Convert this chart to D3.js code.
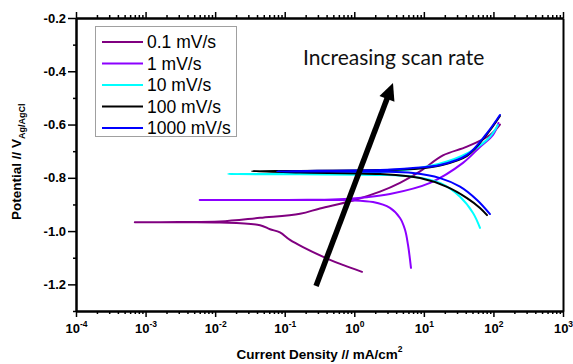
<!DOCTYPE html>
<html><head><meta charset="utf-8">
<script src="https://cdn.jsdelivr.net/npm/d3@7"></script>
<style>body{margin:0;background:#fff}svg{display:block}</style>
</head><body>
<svg id="chart" width="573" height="364"></svg>
<script>
// ---- data: [current density (mA/cm2), potential (V vs Ag/AgCl)], cathodic end -> Ecorr -> anodic end
const seriesNames = ["0.1 mV/s", "1 mV/s", "10 mV/s", "100 mV/s", "1000 mV/s"];
const seriesColors = ["#800080", "#8c00ff", "#00ffff", "#000000", "#0000ff"];

const rate01 = [
  [1.29,-1.153],[0.70,-1.128],[0.448,-1.108],[0.183,-1.060],[0.119,-1.033],[0.0855,-1.005],
  [0.0615,-0.993],[0.0442,-0.978],[0.0117,-0.968],[0.003,-0.967],[0.0007,-0.967],
  [0.003,-0.966],[0.0117,-0.964],[0.0442,-0.950],[0.166,-0.935],[0.321,-0.915],
  [0.959,-0.885],[2.34,-0.852],[4.54,-0.819],[8.81,-0.776],[18.8,-0.716],
  [41.7,-0.683],[89.3,-0.639],[124,-0.600]
];
const rate1 = [
  [6.53,-1.138],[5.92,-1.052],[5.36,-0.995],[4.54,-0.951],[3.26,-0.913],[1.86,-0.891],
  [0.867,-0.884],[0.1,-0.883],[0.006,-0.883],
  [0.05,-0.883],[0.448,-0.882],[1.52,-0.873],[3.26,-0.861],[12.3,-0.819],
  [36.5,-0.744],[64.1,-0.684],[98.6,-0.639],[118,-0.594]
];
const rate10 = [
  [64.1,-0.988],[50.9,-0.932],[33.1,-0.871],[17.1,-0.819],[6.98,-0.796],[2.34,-0.789],
  [0.166,-0.787],[0.0153,-0.786],
  [0.166,-0.785],[2.34,-0.778],[6.98,-0.767],[21.5,-0.739],[50.9,-0.696],
  [89.3,-0.646],[116,-0.602]
];
const rate100 = [
  [80.9,-0.940],[64.1,-0.913],[41.7,-0.876],[21.5,-0.834],[8.81,-0.801],[2.34,-0.786],
  [0.166,-0.780],[0.0339,-0.775],
  [0.166,-0.774],[2.34,-0.771],[8.81,-0.765],[17.1,-0.754],[41.7,-0.718],
  [80.9,-0.636],[124,-0.568]
];
const rate1000 = [
  [89.3,-0.936],[58.1,-0.883],[33.1,-0.833],[17.1,-0.801],[6.98,-0.782],[2.34,-0.777],
  [0.0774,-0.776],
  [0.5,-0.773],[2.34,-0.771],[6.98,-0.763],[17.1,-0.752],[41.7,-0.714],
  [80.9,-0.632],[124,-0.564]
];
const seriesData = [rate01, rate1, rate10, rate100, rate1000];

const xMajorExps = [-4, -3, -2, -1, 0, 1, 2, 3];
const yMajorTicks = [-1.2, -1.0, -0.8, -0.6, -0.4, -0.2];
const yMinorTicks = [-1.3, -1.1, -0.9, -0.7, -0.5, -0.3];
const arrowFromTo = [[0.282, -1.206], [3.6, -0.444]];
const noteText = "Increasing scan rate";
const notePos = [0.183, -0.376];
const xTitle = "Current Density // mA/cm";
const yTitle = "Potential // V";
const ySub = "Ag/AgCl";

// ---- layout
const svg = d3.select("#chart");
const L = 76, R = 563, T = 18, B = 311;
const x = d3.scaleLog().domain([1e-4, 1e3]).range([L, R]);
const y = d3.scaleLinear().domain([-1.3, -0.2]).range([B, T]);
const axisFont = "'Liberation Sans', Arial, sans-serif";

const xMajor = xMajorExps.map(e => Math.pow(10, e));
const xMinor = [];
xMajorExps.slice(0, -1).forEach(e => { for (let m = 2; m <= 9; m++) xMinor.push(m * Math.pow(10, e)); });

function styleAxis(g) {
  g.select(".domain").attr("stroke", "#000").attr("stroke-width", 2);
  g.selectAll(".tick line").attr("stroke", "#000").attr("stroke-width", 1.5);
}

// bottom
svg.append("g").attr("transform", `translate(0,${B})`)
  .call(d3.axisBottom(x).tickValues(xMinor).tickSize(3).tickSizeOuter(0).tickFormat(""))
  .call(styleAxis);
const bx = svg.append("g").attr("transform", `translate(0,${B})`)
  .call(d3.axisBottom(x).tickValues(xMajor).tickSize(6).tickSizeOuter(0).tickFormat(""))
  .call(styleAxis);
bx.selectAll(".tick").each(function(d, i) {
  const t = d3.select(this).append("text")
    .attr("y", 22).attr("text-anchor", "middle")
    .attr("font-family", axisFont).attr("font-weight", "bold").attr("font-size", 13).attr("fill", "#000");
  t.append("tspan").text("10");
  t.append("tspan").text(xMajorExps[i]).attr("font-size", 8.5).attr("dy", -6);
});
// top
svg.append("g").attr("transform", `translate(0,${T})`)
  .call(d3.axisTop(x).tickValues(xMinor).tickSize(3).tickSizeOuter(0).tickFormat(""))
  .call(styleAxis);
svg.append("g").attr("transform", `translate(0,${T})`)
  .call(d3.axisTop(x).tickValues(xMajor).tickSize(6).tickSizeOuter(0).tickFormat(""))
  .call(styleAxis);
// left
svg.append("g").attr("transform", `translate(${L},0)`)
  .call(d3.axisLeft(y).tickValues(yMinorTicks).tickSize(3).tickSizeOuter(0).tickFormat(""))
  .call(styleAxis);
const ly = svg.append("g").attr("transform", `translate(${L},0)`)
  .call(d3.axisLeft(y).tickValues(yMajorTicks).tickSize(8).tickSizeOuter(0).tickFormat(d3.format(".1f")))
  .call(styleAxis);
ly.selectAll(".tick text").attr("font-family", axisFont).attr("font-weight", "bold")
  .attr("font-size", 13).attr("fill", "#000").attr("x", -10)
  .text(d => d3.format(".1f")(d).replace("−", "-"));
// right
svg.append("g").attr("transform", `translate(${R},0)`)
  .call(d3.axisRight(y).tickValues([]).tickSizeOuter(0))
  .call(styleAxis);

// titles
const xt = svg.append("text").attr("x", (L + R) / 2).attr("y", 359).attr("text-anchor", "middle")
  .attr("font-family", axisFont).attr("font-weight", "bold").attr("font-size", 13.5).attr("fill", "#000");
xt.append("tspan").text(xTitle);
xt.append("tspan").text("2").attr("font-size", 8.5).attr("dy", -7);

const yt = svg.append("text").attr("transform", "translate(21,220) rotate(-90)").attr("text-anchor", "start")
  .attr("font-family", axisFont).attr("font-weight", "bold").attr("font-size", 13.5).attr("fill", "#000");
yt.append("tspan").text(yTitle);
yt.append("tspan").text(ySub).attr("font-size", 9).attr("dy", 4);

// curves
const line = d3.line().x(d => x(d[0])).y(d => y(d[1])).curve(d3.curveCatmullRom.alpha(0.5));
const plot = svg.append("g");
seriesData.forEach((s, i) => {
  plot.append("path").datum(s).attr("d", line)
    .attr("fill", "none").attr("stroke", seriesColors[i]).attr("stroke-width", 2)
    .attr("stroke-linejoin", "round").attr("stroke-linecap", "round");
});

// legend
const lg = svg.append("g");
lg.append("rect").attr("x", 95.5).attr("y", 26.5).attr("width", 141).attr("height", 110)
  .attr("fill", "#fff").attr("stroke", "#a0a0a0").attr("stroke-width", 1);
seriesNames.forEach((n, i) => {
  const yy = 42 + i * 21.5;
  lg.append("line").attr("x1", 102).attr("x2", 143).attr("y1", yy).attr("y2", yy)
    .attr("stroke", seriesColors[i]).attr("stroke-width", 2);
  lg.append("text").attr("x", 147).attr("y", yy + 6).text(n)
    .attr("font-family", axisFont).attr("font-size", 17.5).attr("fill", "#000");
});

// annotation arrow
const p0 = [x(arrowFromTo[0][0]), y(arrowFromTo[0][1])];
const p1 = [x(arrowFromTo[1][0]), y(arrowFromTo[1][1])];
const ang = Math.atan2(p1[1] - p0[1], p1[0] - p0[0]);
const headLen = 17, headW = 8;
const hb = [p1[0] - headLen * Math.cos(ang), p1[1] - headLen * Math.sin(ang)];
svg.append("line").attr("x1", p0[0]).attr("y1", p0[1]).attr("x2", hb[0] + 2 * Math.cos(ang)).attr("y2", hb[1] + 2 * Math.sin(ang))
  .attr("stroke", "#000").attr("stroke-width", 5.5);
svg.append("path")
  .attr("d", `M${p1[0]},${p1[1]} L${hb[0] + headW * Math.sin(ang)},${hb[1] - headW * Math.cos(ang)} L${hb[0] - headW * Math.sin(ang)},${hb[1] + headW * Math.cos(ang)} Z`)
  .attr("fill", "#000");
svg.append("text").attr("x", x(notePos[0])).attr("y", y(notePos[1])).text(noteText)
  .attr("font-family", "Lato, 'Open Sans', sans-serif").attr("font-size", 21).attr("fill", "#111");
</script>
</body></html>
